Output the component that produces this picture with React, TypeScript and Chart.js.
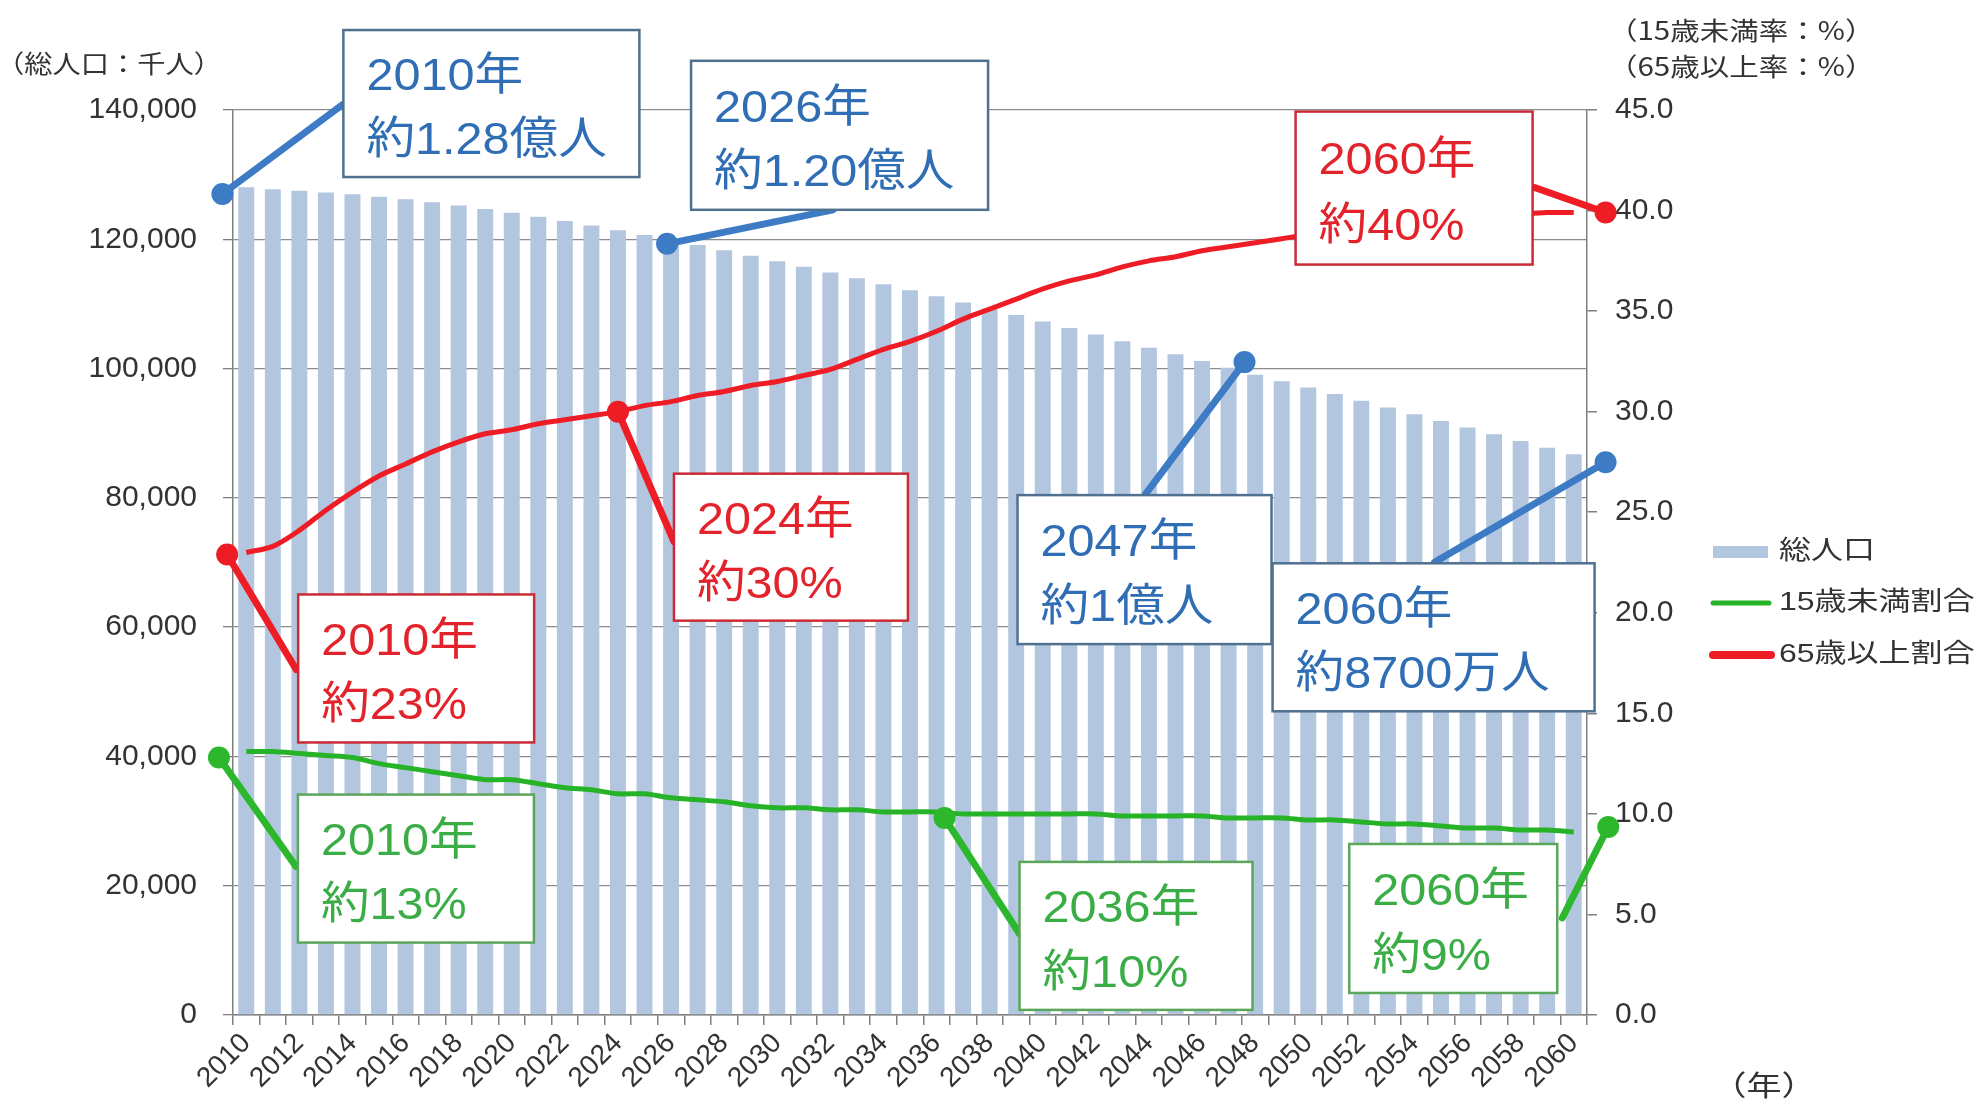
import React, { useEffect, useRef } from "react";
import { Chart, registerables } from "chart.js";

Chart.register(...registerables);

// ---------------- data ----------------
const years = [
  "2010", "2011", "2012", "2013", "2014", "2015", "2016", "2017", "2018", "2019",
  "2020", "2021", "2022", "2023", "2024", "2025", "2026", "2027", "2028", "2029",
  "2030", "2031", "2032", "2033", "2034", "2035", "2036", "2037", "2038", "2039",
  "2040", "2041", "2042", "2043", "2044", "2045", "2046", "2047", "2048", "2049",
  "2050", "2051", "2052", "2053", "2054", "2055", "2056", "2057", "2058", "2059",
  "2060",
];

// 総人口（千人）
const population = [
  128057, 127753, 127498, 127247, 126949, 126597, 126193, 125739, 125236, 124689,
  124100, 123474, 122813, 122122, 121403, 120659, 119891, 119102, 118293, 117465,
  116618, 115752, 114870, 113970, 113054, 112124, 111179, 110221, 109251, 108270,
  107276, 106271, 105257, 104235, 103208, 102210, 101167, 100112, 99046, 98040,
  97076, 96060, 95030, 93990, 92940, 91900, 90870, 89840, 88810, 87770,
  86737,
];

// 15歳未満割合（%）
const under15 = [
  13.1, 13.1, 13.0, 12.9, 12.8, 12.5, 12.3, 12.1, 11.9, 11.7,
  11.7, 11.5, 11.3, 11.2, 11.0, 11.0, 10.8, 10.7, 10.6, 10.4,
  10.3, 10.3, 10.2, 10.2, 10.1, 10.1, 10.1, 10.0, 10.0, 10.0,
  10.0, 10.0, 10.0, 9.9, 9.9, 9.9, 9.9, 9.8, 9.8, 9.8,
  9.7, 9.7, 9.6, 9.5, 9.5, 9.4, 9.3, 9.3, 9.2, 9.2,
  9.1,
];

// 65歳以上割合（%）
const over65 = [
  23.0, 23.3, 24.1, 25.1, 26.0, 26.8, 27.4, 28.0, 28.5, 28.9,
  29.1, 29.4, 29.6, 29.8, 30.0, 30.3, 30.5, 30.8, 31.0, 31.3,
  31.5, 31.8, 32.1, 32.6, 33.1, 33.5, 34.0, 34.6, 35.1, 35.6,
  36.1, 36.5, 36.8, 37.2, 37.5, 37.7, 38.0, 38.2, 38.4, 38.6,
  38.8, 38.9, 39.0, 39.1, 39.2, 39.4, 39.5, 39.6, 39.8, 39.9,
  39.9,
];

const seriesLabels = ["総人口", "15歳未満割合", "65歳以上割合"];

const leftAxisTitle = "（総人口：千人）";
const rightAxisTitles = ["（15歳未満率：%）", "（65歳以上率：%）"];
const xAxisTitle = "（年）";

// callout texts and anchor values (x = category index, y = axis value)
const calloutTexts = [
  ["2010年", "約1.28億人"],
  ["2026年", "約1.20億人"],
  ["2047年", "約1億人"],
  ["2060年", "約8700万人"],
  ["2010年", "約23%"],
  ["2024年", "約30%"],
  ["2060年", "約40%"],
  ["2010年", "約13%"],
  ["2036年", "約10%"],
  ["2060年", "約9%"],
];
const calloutAnchorX = [-0.9, 15.85, 37.6, 51.2, -0.72, 14, 51.2, -1.03, 26.3, 51.3];
const calloutAnchorY = [127000, 119300, 101000, 85500, 22.9, 30.0, 39.9, 12.8, 9.8, 9.35];

// ---------------- styles / layout ----------------
const COLORS = {
  bar: "#b3c6e0",
  red: "#ee1c25",
  green: "#27b327",
  grid: "#8c8c8c",
  axis: "#7f7f7f",
  tick: "#333333",
};

const THEMES: Record<string, { text: string; line: string; border: string }> = {
  blue: { text: "#2f6db4", line: "#3d7cc5", border: "#50708f" },
  red: { text: "#e3232b", line: "#ee1c25", border: "#cc2b36" },
  green: { text: "#3aad46", line: "#2db72d", border: "#5aa65a" },
};

// per callout: theme, axis, box [dx, dy, w, h] relative to dot, line end [dx, dy]
const calloutStyle = [
  { theme: "blue", axis: "y", box: [121, -164, 296, 147], end: [121, -90] },
  { theme: "blue", axis: "y", box: [24, -183, 297, 149], end: [166, -34] },
  { theme: "blue", axis: "y", box: [-227, 133, 254, 149], end: [-99, 132] },
  { theme: "blue", axis: "y", box: [-333, 101, 322, 148], end: [-171, 100] },
  { theme: "red", axis: "y1", box: [71, 40, 236, 148], end: [69, 115] },
  { theme: "red", axis: "y1", box: [56, 62, 234, 147], end: [56, 130] },
  { theme: "red", axis: "y1", box: [-310, -101, 237, 153], end: [-71, -25] },
  { theme: "green", axis: "y1", box: [79, 37, 236, 148], end: [77, 109] },
  { theme: "green", axis: "y1", box: [75, 44, 233, 148], end: [75, 116] },
  { theme: "green", axis: "y1", box: [-259, 17, 208, 149], end: [-46, 91] },
];

const FONT = '"Liberation Sans", "Noto Sans CJK JP", sans-serif';
const CJK = '"Noto Sans CJK JP", "Liberation Sans", sans-serif';

function drawText(
  ctx: CanvasRenderingContext2D,
  text: string,
  x: number,
  y: number,
  size: number,
  color: string,
  align: CanvasTextAlign,
  sx: number,
  family: string = FONT
) {
  ctx.save();
  ctx.font = `${size}px ${family}`;
  ctx.fillStyle = color;
  ctx.textBaseline = "middle";
  ctx.textAlign = align;
  ctx.translate(x, y);
  ctx.scale(sx, 1);
  ctx.fillText(text, 0, 0);
  ctx.restore();
}

const decorPlugin = {
  id: "decor",
  afterDatasetsDraw(chart: any) {
    const ctx: CanvasRenderingContext2D = chart.ctx;
    const xs = chart.scales.x;
    const area = chart.chartArea;

    // callouts
    calloutTexts.forEach((lines, i) => {
      const st = calloutStyle[i];
      const th = THEMES[st.theme];
      const ys = chart.scales[st.axis];
      const px = xs.getPixelForValue(calloutAnchorX[i]);
      const py = ys.getPixelForValue(calloutAnchorY[i]);
      ctx.save();
      // connector
      ctx.strokeStyle = th.line;
      ctx.lineWidth = 7;
      ctx.lineCap = "round";
      ctx.beginPath();
      ctx.moveTo(px, py);
      ctx.lineTo(px + st.end[0], py + st.end[1]);
      ctx.stroke();
      // dot
      ctx.fillStyle = th.line;
      ctx.beginPath();
      ctx.arc(px, py, 11, 0, Math.PI * 2);
      ctx.fill();
      // box
      const bx = px + st.box[0];
      const by = py + st.box[1];
      const bw = st.box[2];
      const bh = st.box[3];
      ctx.fillStyle = "#ffffff";
      ctx.fillRect(bx, by, bw, bh);
      ctx.strokeStyle = th.border;
      ctx.lineWidth = 2.5;
      ctx.strokeRect(bx, by, bw, bh);
      ctx.restore();
      drawText(ctx, lines[0], bx + 23, by + bh * 0.325, 45, th.text, "left", 1.08);
      drawText(ctx, lines[1], bx + 23, by + bh * 0.76, 45, th.text, "left", 1.08);
    });

    // axis titles
    drawText(ctx, leftAxisTitle, -4, 63, 25, COLORS.tick, "left", 1.13, CJK);
    drawText(ctx, rightAxisTitles[0], area.right + 21, 30, 25, COLORS.tick, "left", 1.18, CJK);
    drawText(ctx, rightAxisTitles[1], area.right + 21, 66, 25, COLORS.tick, "left", 1.18, CJK);
    drawText(ctx, xAxisTitle, area.right + 177, 1085, 28, COLORS.tick, "center", 1.25, CJK);

    // legend
    const lx = area.right + 124;
    const ly = [552, 603, 655];
    ctx.save();
    ctx.fillStyle = COLORS.bar;
    ctx.fillRect(lx + 2, ly[0] - 6, 55, 12);
    ctx.lineCap = "round";
    ctx.strokeStyle = COLORS.green;
    ctx.lineWidth = 5;
    ctx.beginPath();
    ctx.moveTo(lx + 2, ly[1]);
    ctx.lineTo(lx + 58, ly[1]);
    ctx.stroke();
    ctx.strokeStyle = COLORS.red;
    ctx.lineWidth = 8;
    ctx.beginPath();
    ctx.moveTo(lx + 2, ly[2]);
    ctx.lineTo(lx + 60, ly[2]);
    ctx.stroke();
    ctx.restore();
    seriesLabels.forEach((t, i) => {
      drawText(ctx, t, lx + 68, ly[i], 26, COLORS.tick, "left", 1.23);
    });
  },
};

export default function App() {
  const ref = useRef<HTMLCanvasElement | null>(null);

  useEffect(() => {
    if (!ref.current) return;
    const tickFont = { family: FONT, size: 30 };
    const chart = new Chart(ref.current, {
      type: "bar",
      data: {
        labels: years,
        datasets: [
          {
            type: "line",
            label: seriesLabels[2],
            data: over65,
            yAxisID: "y1",
            borderColor: COLORS.red,
            borderWidth: 5,
            pointRadius: 0,
            tension: 0.3,
            order: 0,
          },
          {
            type: "line",
            label: seriesLabels[1],
            data: under15,
            yAxisID: "y1",
            borderColor: COLORS.green,
            borderWidth: 5,
            pointRadius: 0,
            tension: 0.3,
            order: 1,
          },
          {
            type: "bar",
            label: seriesLabels[0],
            data: population,
            yAxisID: "y",
            backgroundColor: COLORS.bar,
            barPercentage: 0.6,
            categoryPercentage: 1,
            order: 2,
          },
        ],
      },
      options: {
        responsive: false,
        animation: false,
        layout: { padding: { left: 0, right: 0, top: 110, bottom: 0 } },
        plugins: {
          legend: { display: false },
          tooltip: { enabled: false },
        },
        scales: {
          x: {
            offset: true,
            grid: {
              offset: true,
              drawOnChartArea: false,
              drawTicks: true,
              tickLength: 10,
              color: COLORS.axis,
              lineWidth: 1.5,
            },
            border: { display: true, color: COLORS.axis, width: 1.5 },
            ticks: {
              autoSkip: false,
              minRotation: 45,
              maxRotation: 45,
              padding: 2,
              color: COLORS.tick,
              font: { family: FONT, size: 28 },
              callback: (_v: any, i: number) => (i % 2 === 0 ? years[i] : ""),
            },
            afterFit: (s: any) => {
              s.height = 89;
            },
          },
          y: {
            position: "left",
            min: 0,
            max: 140000,
            ticks: {
              stepSize: 20000,
              padding: 26,
              color: COLORS.tick,
              font: tickFont,
              callback: (v: any) => Number(v).toLocaleString("en-US"),
            },
            grid: { color: COLORS.grid, lineWidth: 1.3, tickLength: 10, tickColor: COLORS.axis },
            border: { display: true, color: COLORS.axis, width: 1.5 },
            afterFit: (s: any) => {
              s.width = 233;
            },
          },
          y1: {
            position: "right",
            min: 0,
            max: 45,
            ticks: {
              stepSize: 5,
              padding: 18,
              color: COLORS.tick,
              font: tickFont,
              callback: (v: any) => Number(v).toFixed(1),
            },
            grid: { drawOnChartArea: false, tickLength: 10, color: COLORS.axis, lineWidth: 1.5 },
            border: { display: true, color: COLORS.axis, width: 1.5 },
            afterFit: (s: any) => {
              s.width = 393;
            },
          },
        },
      },
      plugins: [decorPlugin],
    } as any);
    return () => chart.destroy();
  }, []);

  return (
    <div style={{ position: "fixed", left: 0, top: 0, width: 1980, height: 1104, background: "#ffffff" }}>
      <canvas ref={ref} width={1980} height={1104} style={{ display: "block", width: 1980, height: 1104 }} />
    </div>
  );
}
